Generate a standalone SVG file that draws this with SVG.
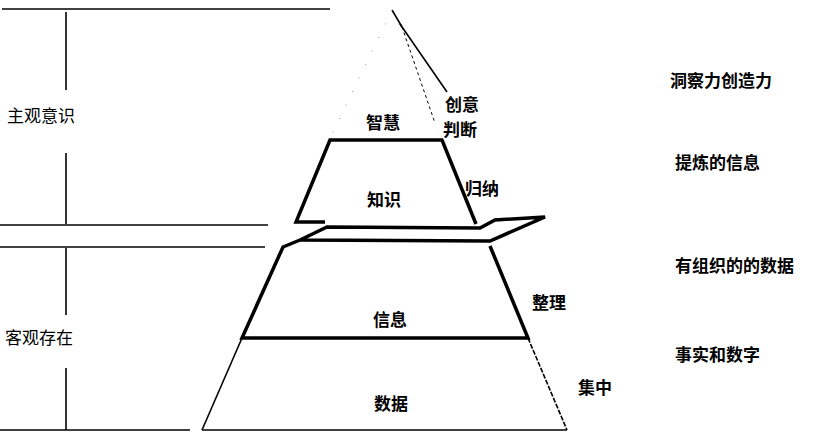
<svg xmlns="http://www.w3.org/2000/svg" width="816" height="440" viewBox="0 0 816 440">
<style>
  .t{font-family:"Noto Sans CJK SC","Noto Sans",sans-serif;font-size:17px;fill:#000}
  .b{font-weight:bold}
  .thin{stroke:#000;stroke-width:1.6;fill:none}
  .thick{stroke:#000;stroke-width:3.5;fill:none;stroke-linejoin:miter}
  .dot{stroke:#000;stroke-width:1;fill:none;stroke-dasharray:3 3}
  .faint{stroke:#999;stroke-width:1;fill:none;stroke-dasharray:1 14}
</style>
<rect width="816" height="440" fill="#fff"/>
<g id="connectors">
  <line class="thin" x1="2" y1="9" x2="330" y2="9" stroke-width="2.2"/>
  <line class="thin" x1="66" y1="12" x2="66" y2="90"/>
  <line class="thin" x1="66" y1="153" x2="66" y2="224"/>
  <line class="thin" x1="0" y1="225" x2="268" y2="225"/>
  <line class="thin" x1="0" y1="247" x2="265" y2="247"/>
  <line class="thin" x1="66" y1="248" x2="66" y2="315"/>
  <line class="thin" x1="66" y1="368" x2="66" y2="430"/>
  <line class="thin" x1="0" y1="430" x2="190" y2="430"/>
</g>
<g id="subjective">
  <text class="t" x="7" y="122">主观意识</text>
</g>
<g id="objective">
  <text class="t" x="5" y="344">客观存在</text>
</g>
<g id="wisdom">
  <line class="thin" x1="392" y1="10" x2="402" y2="27" stroke-width="2.5"/>
  <line class="thin" x1="400" y1="24" x2="447" y2="92" stroke-width="1"/>
  <line class="dot" x1="402" y1="27" x2="435" y2="123"/>
  <line class="faint" x1="392" y1="10" x2="330" y2="138"/>
  <text class="t b" x="383" y="129" text-anchor="middle">智慧</text>
  <text class="t b" x="445" y="111">创意</text>
  <text class="t b" x="443" y="136">判断</text>
</g>
<g id="knowledge">
  <polyline class="thick" points="325,222 296,222 330,140 442,140 476,224"/>
  <text class="t b" x="384" y="206" text-anchor="middle">知识</text>
  <text class="t b" x="465" y="195">归纳</text>
</g>
<g id="layer-plate">
  <polygon class="thick" points="327,227 480,228 495,220 545,217 490,241 300,240"/>
</g>
<g id="information">
  <polyline class="thick" points="300,240 283,247 242,338 528,338 490,246"/>
  <text class="t b" x="390" y="326" text-anchor="middle">信息</text>
  <text class="t b" x="532" y="309">整理</text>
</g>
<g id="data">
  <line class="thin" x1="242" y1="338" x2="202" y2="430"/>
  <line class="thin" x1="528" y1="338" x2="567" y2="430" stroke-width="1.2" stroke-dasharray="5 1.5"/>
  <line class="thin" x1="202" y1="430" x2="567" y2="430" stroke-width="2"/>
  <text class="t b" x="391" y="410" text-anchor="middle">数据</text>
  <text class="t b" x="578" y="394">集中</text>
</g>
<g id="descriptions">
  <text class="t b" x="670" y="87">洞察力创造力</text>
  <text class="t b" x="675" y="169">提炼的信息</text>
  <text class="t b" x="675" y="272">有组织的的数据</text>
  <text class="t b" x="675" y="361">事实和数字</text>
</g>
</svg>
